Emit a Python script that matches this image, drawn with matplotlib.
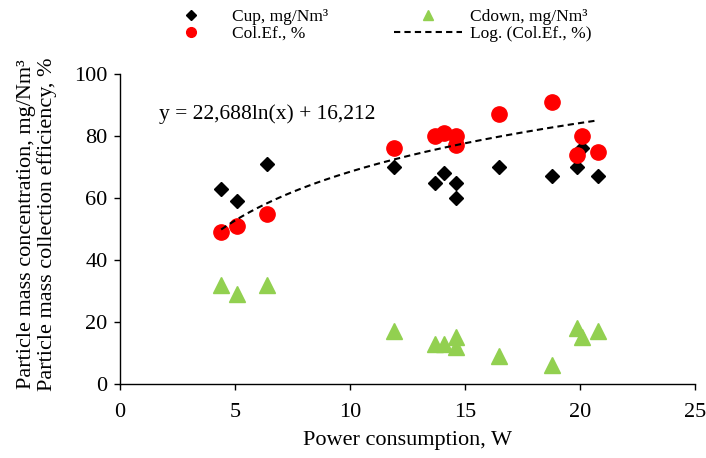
import numpy as np
import matplotlib
matplotlib.use("Agg")
import matplotlib.pyplot as plt
from matplotlib.lines import Line2D

plt.rcParams['font.family'] = ['Liberation Serif', 'DejaVu Serif']

# Data
power = [4.4, 5.1, 6.4, 11.9, 13.7, 14.1, 14.6, 14.6, 16.5, 18.8, 19.9, 20.1, 20.8]
cup = [63, 59, 71, 70, 65, 68, 65, 60, 70, 67, 70, 76, 67]
cdown = [32, 29, 32, 17, 13, 13, 15, 12, 9, 6, 18, 15, 17]
col_ef = [49, 51, 55, 76, 80, 81, 80, 77, 87, 91, 74, 80, 75]
fit_a, fit_b = 22.688, 16.212
x_ticks = [0, 5, 10, 15, 20, 25]
y_ticks = [0, 20, 40, 60, 80, 100]

fig = plt.figure(figsize=(7.06, 4.58), dpi=100)
ax = fig.add_axes([0.170, 0.1616, 0.814, 0.6768])

green = '#92D050'
ax.plot(power, cup, linestyle='none', marker='D', markersize=7.5, color='black', zorder=3)
ax.plot(power, cdown, linestyle='none', marker='^', markersize=11, color=green, zorder=3)
ax.plot(power, col_ef, linestyle='none', marker='o', markersize=11, color='#FF0000', zorder=3)
xs = np.linspace(min(power), max(power), 200)
ax.plot(xs, fit_a * np.log(xs) + fit_b, color='black', linestyle=(0, (3, 2)), linewidth=1.5, zorder=4)

ax.set_xlim(0, 25)
ax.set_ylim(0, 100)
ax.set_xticks(x_ticks)
ax.set_yticks(y_ticks)
for s in ['top', 'right']:
    ax.spines[s].set_visible(False)
for s in ['left', 'bottom']:
    ax.spines[s].set_linewidth(1.0)
    ax.spines[s].set_color('black')
ax.tick_params(direction='out', length=4.5, width=1.0, labelsize=16, colors='black')
ax.tick_params(axis='x', pad=9)
ax.tick_params(axis='y', pad=4.5)

ax.set_xlabel('Power consumption, W', fontsize=16, labelpad=6.5)
fig.text(0.053, 0.51, 'Particle mass concentration, mg/Nm³\nParticle mass collection efficiency, %',
         rotation=90, ha='center', va='center', fontsize=16, multialignment='center', linespacing=1.08)

ax.text(1.7, 87, 'y = 22,688ln(x) + 16,212', fontsize=15.5, ha='left', va='center')

handles = [
    Line2D([], [], linestyle='none', marker='D', markersize=5, color='black'),
    Line2D([], [], linestyle='none', marker='o', markersize=7, color='#FF0000'),
    Line2D([], [], linestyle='none', marker='^', markersize=7, color=green),
    Line2D([], [], color='black', linestyle=(0, (3, 2)), linewidth=1.5),
]
labels = ['Cup, mg/Nm³', 'Col.Ef., %', 'Cdown, mg/Nm³', 'Log. (Col.Ef., %)']
fig.legend(handles, labels, ncol=2, frameon=False, fontsize=12.5,
           loc='upper left', bbox_to_anchor=(0.200, 1.015), handlelength=3.9,
           handletextpad=0.45, columnspacing=3.8, labelspacing=0.05)

fig.savefig('out.png', dpi=100)
